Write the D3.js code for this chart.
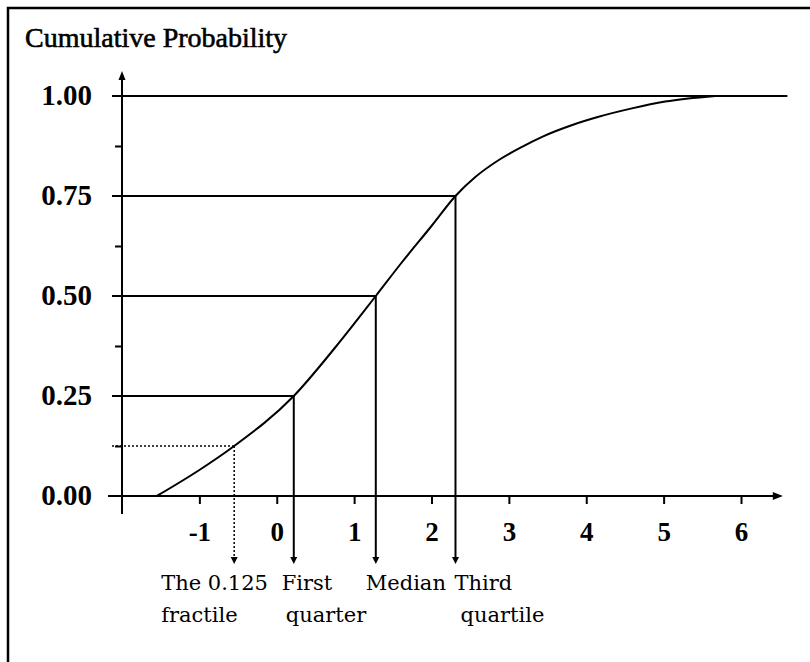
<!DOCTYPE html>
<html>
<head>
<meta charset="utf-8">
<script src="https://cdn.jsdelivr.net/npm/d3@7/dist/d3.min.js"></script>
<style>
  html, body { margin: 0; padding: 0; background: #fff; }
  svg { display: block; }
  .tick line { stroke: #000; stroke-width: 2; }
</style>
</head>
<body>
<div id="chart"></div>
<script>

// curve: x value and cumulative probability
var curveX = [-1.55, -1.0, -0.55, 0.22, 0.75, 1.28, 1.6, 2.0, 2.31, 2.57, 2.87, 3.17, 3.43, 3.82, 4.16, 4.59, 5.02, 5.67];
var curveP = [0, 0.065, 0.125, 0.25, 0.37, 0.5, 0.58, 0.675, 0.75, 0.798, 0.84, 0.873, 0.898, 0.9275, 0.948, 0.969, 0.986, 1.0];

// fractiles marked on the chart
var fracP = [0.125, 0.25, 0.5, 0.75];
var fracX = [-0.55, 0.22, 1.28, 2.31];
var fracLabels = [["The 0.125", "fractile"], ["First", "quarter"], ["Median"], ["Third", "quartile"]];

var yTicks = [0, 0.25, 0.5, 0.75, 1];
var yTickLabels = ["0.00", "0.25", "0.50", "0.75", "1.00"];
var yMinor = [0.125, 0.375, 0.625, 0.875];
var xTicks = [-1, 0, 1, 2, 3, 4, 5, 6];

var width = 810;
var height = 662;

var x = d3.scaleLinear().domain([-2, 6]).range([122, 741]);
var y = d3.scaleLinear().domain([0, 1]).range([496, 96]);

var svg = d3.select('#chart').append('svg')
  .attr('width', width)
  .attr('height', height);

// frame (only top and left edges are in view)
svg.append('path')
  .attr('d', 'M8,' + height + 'V8H' + width)
  .attr('fill', 'none')
  .attr('stroke', '#000')
  .attr('stroke-width', 2.5);

svg.append('text')
  .attr('x', 25)
  .attr('y', 47)
  .attr('font-family', '"Liberation Serif", "Times New Roman", serif')
  .attr('font-size', 28)
  .attr('stroke', '#000')
  .attr('stroke-width', 0.6)
  .text('Cumulative Probability');

var x0 = x(-2), y0 = y(0);
var xEnd = x(6.54);

// reference lines from the y axis to the curve
fracP.forEach(function (p, i) {
  var dotted = i === 0;
  svg.append('line')
    .attr('x1', x0 - 10).attr('x2', x(fracX[i]))
    .attr('y1', y(p)).attr('y2', y(p))
    .attr('stroke', '#000')
    .attr('stroke-width', dotted ? 1.5 : 2)
    .attr('stroke-dasharray', dotted ? '2,2' : null);
});

// the 1.00 line runs all the way across
svg.append('line')
  .attr('x1', x0 - 10).attr('x2', x(6.6))
  .attr('y1', y(1)).attr('y2', y(1))
  .attr('stroke', '#000').attr('stroke-width', 2);

// drop lines down to the labels, with arrow heads
var dropEnd = 564;
fracX.forEach(function (v, i) {
  var dotted = i === 0;
  var px = x(v);
  svg.append('line')
    .attr('x1', px).attr('x2', px)
    .attr('y1', y(fracP[i])).attr('y2', dropEnd - 4)
    .attr('stroke', '#000')
    .attr('stroke-width', dotted ? 1.5 : 2)
    .attr('stroke-dasharray', dotted ? '2,2' : null);
  svg.append('path')
    .attr('d', 'M' + (px - 3.5) + ',' + (dropEnd - 7) + 'L' + (px + 3.5) + ',' + (dropEnd - 7) + 'L' + px + ',' + dropEnd + 'Z')
    .attr('fill', '#000');
});

// x axis
var xAxis = d3.axisBottom(x)
  .tickValues(xTicks)
  .tickSize(8)
  .tickPadding(18)
  .tickFormat(function (d) { return String(d); });

var gx = svg.append('g')
  .attr('transform', 'translate(0,' + y0 + ')')
  .call(xAxis);
gx.select('.domain').remove();
gx.selectAll('text')
  .attr('font-family', '"Liberation Serif", "Times New Roman", serif')
  .attr('font-weight', 'bold')
  .attr('font-size', 27)
  .attr('fill', '#000');

// y axis: labels only, minor ticks drawn separately
var yAxis = d3.axisLeft(y)
  .tickValues(yTicks)
  .tickSize(0)
  .tickPadding(30)
  .tickFormat(function (d, i) { return yTickLabels[i]; });

var gy = svg.append('g')
  .attr('transform', 'translate(' + x0 + ',0)')
  .call(yAxis);
gy.select('.domain').remove();
gy.selectAll('text')
  .attr('font-family', '"Liberation Serif", "Times New Roman", serif')
  .attr('font-weight', 'bold')
  .attr('font-size', 29)
  .attr('dy', '0.3em')
  .attr('fill', '#000');

var gyMinor = svg.append('g')
  .attr('transform', 'translate(' + x0 + ',0)')
  .call(d3.axisLeft(y).tickValues(yMinor).tickSize(7).tickFormat(''));
gyMinor.select('.domain').remove();

// axis lines with arrows
svg.append('line')
  .attr('x1', x0 - 14).attr('x2', xEnd - 2)
  .attr('y1', y0).attr('y2', y0)
  .attr('stroke', '#000').attr('stroke-width', 2);
svg.append('path')
  .attr('d', 'M' + (xEnd - 10) + ',' + (y0 - 4) + 'L' + xEnd + ',' + y0 + 'L' + (xEnd - 10) + ',' + (y0 + 4) + 'Z')
  .attr('fill', '#000');

svg.append('line')
  .attr('x1', x0).attr('x2', x0)
  .attr('y1', 76).attr('y2', y0 + 18)
  .attr('stroke', '#000').attr('stroke-width', 2);
svg.append('path')
  .attr('d', 'M' + (x0 - 3.5) + ',80L' + x0 + ',71L' + (x0 + 3.5) + ',80Z')
  .attr('fill', '#000');

// the curve
var points = curveX.map(function (v, i) { return [v, curveP[i]]; });
var line = d3.line()
  .x(function (d) { return x(d[0]); })
  .y(function (d) { return y(d[1]); })
  .curve(d3.curveMonotoneX);

svg.append('path')
  .datum(points)
  .attr('d', line)
  .attr('fill', 'none')
  .attr('stroke', '#000')
  .attr('stroke-width', 2);

// fractile labels under the arrows
var labelDx = [[-73, -73], [-12, -8], [-10], [-1, 5]];
var labelY = [590, 622];
fracLabels.forEach(function (lines, i) {
  lines.forEach(function (t, j) {
    svg.append('text')
      .attr('x', x(fracX[i]) + labelDx[i][j])
      .attr('y', labelY[j])
      .attr('font-family', '"DejaVu Serif", serif')
      .attr('font-size', 21)
      .attr('fill', '#000')
      .text(t);
  });
});

</script>
</body>
</html>
